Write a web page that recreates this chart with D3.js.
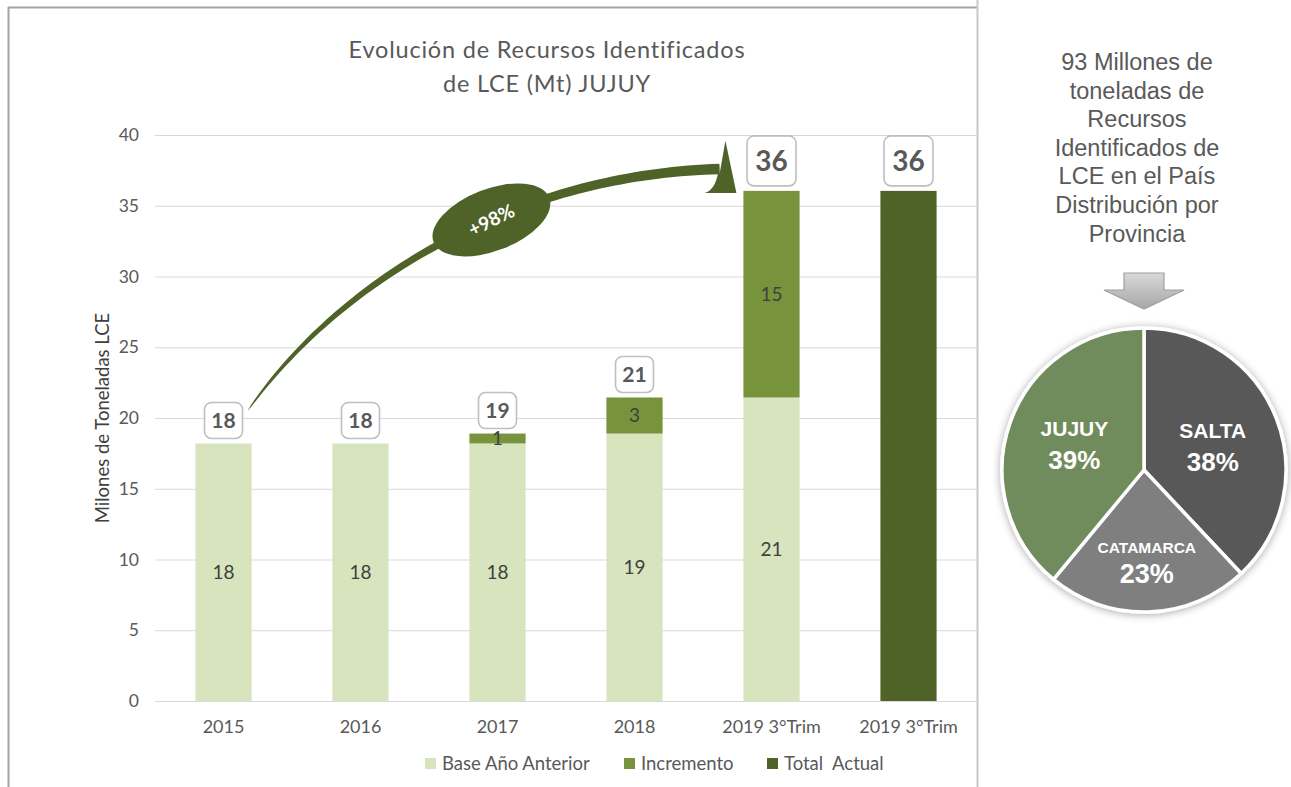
<!DOCTYPE html>
<html>
<head>
<meta charset="utf-8">
<script src="https://cdn.jsdelivr.net/npm/d3@7/dist/d3.min.js"></script>
<style>
  html, body { margin: 0; padding: 0; background: #ffffff; }
  svg { display: block; }
</style>
</head>
<body>
<svg id="chart" width="1291" height="787"></svg>
<script>
// ---- data ----
const categories = ["2015", "2016", "2017", "2018", "2019 3°Trim", "2019 3°Trim"];
const baseValues = [18.2, 18.2, 18.2, 18.9, 21.45, 0];      // Base Año Anterior
const incrementValues = [0, 0, 0.7, 2.55, 14.6, 0];         // Incremento
const totalValues = [0, 0, 0, 0, 0, 36.05];                 // Total Actual
const yTicks = [0, 5, 10, 15, 20, 25, 30, 35, 40];
const seriesNames = ["Base Año Anterior", "Incremento", "Total  Actual"];
const growthLabel = "+98%";

const provinces = ["SALTA", "CATAMARCA", "JUJUY"];
const provinceShares = [38, 23, 39];
const sideText = ["93 Millones de", "toneladas de", "Recursos", "Identificados de",
                  "LCE en el País", "Distribución por", "Provincia"];

// ---- styling ----
const colors = ["#d7e4bd", "#77933c", "#4f6228"];
const pieColors = { SALTA: "#595959", CATAMARCA: "#7f7f7f", JUJUY: "#6f8b5b" };
const fontMain = "Lato, 'Open Sans', sans-serif";
const fontSide = "'Liberation Sans', Arial, sans-serif";
const textGray = "#595959";

const svg = d3.select("#chart");

// defs: shadow for the pie, gradient for the pointer arrow
const defs = svg.append("defs");
const shadow = defs.append("filter").attr("id", "pieShadow")
  .attr("x", "-20%").attr("y", "-20%").attr("width", "140%").attr("height", "140%");
shadow.append("feGaussianBlur").attr("in", "SourceAlpha").attr("stdDeviation", 4).attr("result", "b");
shadow.append("feOffset").attr("in", "b").attr("dx", 0).attr("dy", 1).attr("result", "o");
shadow.append("feComponentTransfer").attr("in", "o").attr("result", "s")
  .append("feFuncA").attr("type", "linear").attr("slope", 0.35);
const merge = shadow.append("feMerge");
merge.append("feMergeNode").attr("in", "s");
merge.append("feMergeNode").attr("in", "SourceGraphic");

const grad = defs.append("linearGradient").attr("id", "grayArrow")
  .attr("x1", 0).attr("y1", 0).attr("x2", 0).attr("y2", 1);
grad.append("stop").attr("offset", "0%").attr("stop-color", "#d9d9d9");
grad.append("stop").attr("offset", "100%").attr("stop-color", "#a6a6a6");

// ---- frame ----
svg.append("line").attr("x1", 8.5).attr("x2", 8.5).attr("y1", 7).attr("y2", 787)
  .attr("stroke", "#a3a3a3").attr("stroke-width", 2);
svg.append("line").attr("x1", 8).attr("x2", 977).attr("y1", 7.5).attr("y2", 7.5)
  .attr("stroke", "#a3a3a3").attr("stroke-width", 2);
svg.append("line").attr("x1", 977.5).attr("x2", 977.5).attr("y1", 0).attr("y2", 787)
  .attr("stroke", "#c8c8c8").attr("stroke-width", 2);

// ---- bar chart ----
const plotLeft = 155, plotRight = 977, plotTop = 135, plotBottom = 701;

const x = d3.scaleBand()
  .domain(d3.range(categories.length))
  .range([plotLeft, plotRight])
  .paddingInner(0.59)
  .paddingOuter(0.295);

const y = d3.scaleLinear().domain([0, 40]).range([plotBottom, plotTop]);

// gridlines + y tick labels
const yAxis = d3.axisLeft(y).tickValues(yTicks).tickSize(-(plotRight - plotLeft)).tickPadding(16);
const yg = svg.append("g").attr("transform", `translate(${plotLeft},0)`).call(yAxis);
yg.select(".domain").remove();
yg.selectAll(".tick line").attr("stroke", "#d9d9d9").attr("stroke-width", 1);
yg.selectAll(".tick text").attr("fill", textGray).attr("font-family", fontMain).attr("font-size", 17.5);

// x axis labels
const xAxis = d3.axisBottom(x).tickFormat(i => categories[i]).tickSize(0).tickPadding(19);
const xg = svg.append("g").attr("transform", `translate(0,${plotBottom})`).call(xAxis);
xg.select(".domain").remove();
xg.selectAll(".tick text").attr("fill", textGray).attr("font-family", fontMain).attr("font-size", 18);

// y axis title
svg.append("text")
  .attr("transform", `translate(109,${(plotTop + plotBottom) / 2}) rotate(-90)`)
  .attr("text-anchor", "middle")
  .attr("fill", "#404040").attr("font-family", fontMain).attr("font-size", 18.5)
  .text("Milones de Toneladas LCE");

// stacked series
const rows = categories.map((c, i) => ({ i, base: baseValues[i], inc: incrementValues[i], tot: totalValues[i] }));
const stack = d3.stack().keys(["base", "inc", "tot"]);
const stacked = stack(rows);

const layers = svg.append("g").selectAll("g").data(stacked).join("g")
  .attr("fill", (d, k) => colors[k]);
layers.selectAll("rect").data(d => d.filter(p => p[1] - p[0] > 0)).join("rect")
  .attr("x", p => x(p.data.i))
  .attr("width", x.bandwidth())
  .attr("y", p => y(p[1]))
  .attr("height", p => y(p[0]) - y(p[1]));

// values inside segments (base and increment)
stacked.slice(0, 2).forEach(layer => {
  svg.append("g").selectAll("text").data(layer.filter(p => p[1] - p[0] > 0)).join("text")
    .attr("x", p => x(p.data.i) + x.bandwidth() / 2)
    .attr("y", p => y((p[0] + p[1]) / 2))
    .attr("dy", "0.35em")
    .attr("text-anchor", "middle")
    .attr("fill", "#404040").attr("font-family", fontMain).attr("font-size", 19)
    .text(p => d3.format(".0f")(p[1] - p[0]));
});

// boxed totals above each column
const totals = rows.map(r => r.base + r.inc + r.tot);
totals.forEach((t, i) => {
  const big = t > 30;
  const w = big ? 49 : 38, h = big ? 50 : 36;
  const cx = x(i) + x.bandwidth() / 2;
  const bottom = y(t) - 5;
  const g = svg.append("g");
  g.append("rect")
    .attr("x", cx - w / 2).attr("y", bottom - h)
    .attr("width", w).attr("height", h).attr("rx", 7)
    .attr("fill", "#ffffff").attr("stroke", "#bfbfbf").attr("stroke-width", 1.6);
  g.append("text")
    .attr("x", cx).attr("y", bottom - h / 2).attr("dy", "0.36em")
    .attr("text-anchor", "middle")
    .attr("fill", textGray).attr("font-family", fontMain).attr("font-weight", 700)
    .attr("font-size", big ? 28 : 21)
    .text(d3.format(".0f")(t));
});

// ---- growth arrow from the 2015 column to the 2019 column ----
const arrowColor = "#4f6228";
const p0 = [x(0) + x.bandwidth() - 4, y(20.5)];
const p3 = [x(4) - 24, y(37.6)];
const p1 = [p0[0] + 88, p0[1] - 126];
const p2 = [p0[0] + 262, p0[1] - 236];
function bez(t) {
  const m = 1 - t;
  return [
    m*m*m*p0[0] + 3*m*m*t*p1[0] + 3*m*t*t*p2[0] + t*t*t*p3[0],
    m*m*m*p0[1] + 3*m*m*t*p1[1] + 3*m*t*t*p2[1] + t*t*t*p3[1]
  ];
}
function bezD(t) {
  const m = 1 - t;
  return [
    3*m*m*(p1[0]-p0[0]) + 6*m*t*(p2[0]-p1[0]) + 3*t*t*(p3[0]-p2[0]),
    3*m*m*(p1[1]-p0[1]) + 6*m*t*(p2[1]-p1[1]) + 3*t*t*(p3[1]-p2[1])
  ];
}
const N = 80, upper = [], lower = [];
for (let k = 0; k <= N; k++) {
  const t = k / N;
  const [px, py] = bez(t);
  const [dx, dy] = bezD(t);
  const len = Math.hypot(dx, dy);
  const nx = -dy / len, ny = dx / len;
  const w = 5.2 * Math.pow(t, 0.5);
  upper.push([px + nx * w, py + ny * w]);
  lower.push([px - nx * w, py - ny * w]);
}
const shaft = upper.concat(lower.reverse());
svg.append("path")
  .attr("d", d3.line()(shaft) + "Z")
  .attr("fill", arrowColor);

// arrow head
const endU = upper[upper.length - 1];
const endL = lower[0];
const headTop = [p3[0] + 6, y(39.6)];
const headBR = [p3[0] + 17, y(35.9)];
const headBL = [p3[0] - 15, y(35.9)];
svg.append("path")
  .attr("d", `M${endU[0]},${endU[1]} L${headTop[0]},${headTop[1]} L${headBR[0]},${headBR[1]} ` +
             `L${headBL[0]},${headBL[1]} Q${endL[0] - 2},${headBL[1] - 3} ${endL[0]},${endL[1]} Z`)
  .attr("fill", arrowColor);

// ellipse badge on the arrow
const badge = [x(2) + 22, y(34.0)];
const bg = svg.append("g").attr("transform", `translate(${badge[0]},${badge[1]})`);
bg.append("ellipse").attr("rx", 62).attr("ry", 31).attr("transform", "rotate(-21)").attr("fill", arrowColor);
bg.append("text").attr("text-anchor", "middle").attr("dy", "0.36em").attr("transform", "rotate(-26)")
  .attr("fill", "#ffffff").attr("font-family", fontMain).attr("font-weight", 700).attr("font-size", 19)
  .text(growthLabel);

// ---- title ----
const title = svg.append("text").attr("text-anchor", "middle")
  .attr("fill", textGray).attr("font-family", fontMain).attr("font-size", 23.5)
  .attr("letter-spacing", 0.8);
title.append("tspan").attr("x", 547).attr("y", 58).text("Evolución de Recursos Identificados");
title.append("tspan").attr("x", 547).attr("y", 92).text("de LCE (Mt) JUJUY");

// ---- legend ----
const legendX = [425, 624, 767];
const legend = svg.append("g").selectAll("g").data(seriesNames).join("g")
  .attr("transform", (d, k) => `translate(${legendX[k]},758)`);
legend.append("rect").attr("width", 11).attr("height", 11).attr("fill", (d, k) => colors[k]);
legend.append("text").attr("x", 17).attr("y", 5.5).attr("dy", "0.36em")
  .attr("fill", textGray).attr("font-family", fontMain).attr("font-size", 18.5)
  .style("white-space", "pre")
  .text(d => d);

// ---- side panel ----
svg.append("text").attr("text-anchor", "middle")
  .attr("fill", textGray).attr("font-family", fontSide).attr("font-size", 23.5)
  .selectAll("tspan").data(sideText).join("tspan")
  .attr("x", 1137).attr("y", (d, k) => 70 + k * 28.6)
  .text(d => d);

// pointer arrow
const ax = 1144;
svg.append("path")
  .attr("d", `M${ax - 20},273 L${ax + 20},273 L${ax + 20},290 L${ax + 40},290 L${ax},309 L${ax - 40},290 L${ax - 20},290 Z`)
  .attr("fill", "url(#grayArrow)").attr("stroke", "#a0a0a0").attr("stroke-width", 1.2);

// pie
const pieCx = 1144, pieCy = 470, pieR = 142;
const pieData = provinces.map((p, k) => ({ name: p, value: provinceShares[k] }));
const arcs = d3.pie().sort(null).value(d => d.value)(pieData);
const arc = d3.arc().innerRadius(0).outerRadius(pieR);
const pg = svg.append("g").attr("transform", `translate(${pieCx},${pieCy})`);
pg.append("g").attr("filter", "url(#pieShadow)")
  .selectAll("path").data(arcs).join("path")
  .attr("d", arc)
  .attr("fill", d => pieColors[d.data.name])
  .attr("stroke", "#ffffff").attr("stroke-width", 3.5).attr("stroke-linejoin", "round");

arcs.forEach(d => {
  const small = d.data.name === "CATAMARCA";
  const r = small ? 90 : 74;
  const a = (d.startAngle + d.endAngle) / 2;
  const lx = Math.sin(a) * r, ly = -Math.cos(a) * r + (d.data.name === "SALTA" ? 4 : 0);
  const t = pg.append("text").attr("text-anchor", "middle")
    .attr("fill", "#ffffff").attr("font-family", fontSide).attr("font-weight", 700);
  t.append("tspan").attr("x", lx).attr("y", ly + (small ? -7 : -9))
    .attr("font-size", small ? 15.5 : 21).text(d.data.name);
  t.append("tspan").attr("x", lx).attr("y", ly + (small ? 23 : 24))
    .attr("font-size", small ? 27 : 26).text(d.data.value + "%");
});
</script>
</body>
</html>
